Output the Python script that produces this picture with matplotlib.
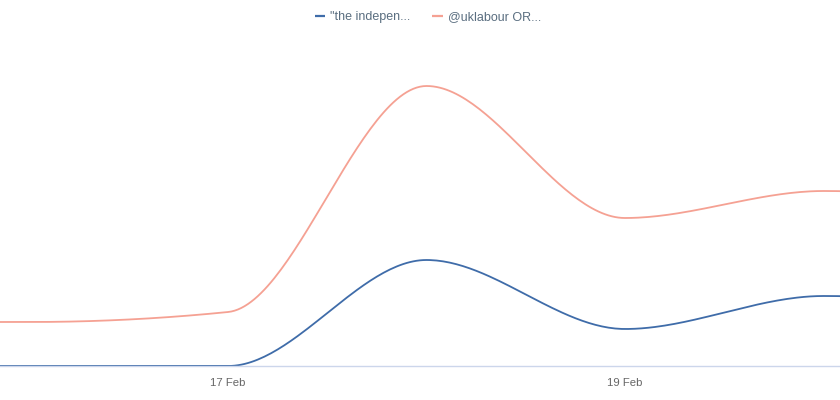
"""Two-series mention trend, smoothed lines, Feb dates."""

import matplotlib

matplotlib.use("Agg")
import matplotlib.dates as mdates
import matplotlib.pyplot as plt
import numpy as np
import pandas as pd

DATES = ["2024-02-15", "2024-02-16", "2024-02-17", "2024-02-18",
         "2024-02-19", "2024-02-20", "2024-02-21"]
INDEPENDENT = [0, 0, 0, 53, 18.5, 35, 28]
UKLABOUR = [22, 22, 27, 140, 74, 87.5, 80]
SERIES_NAMES = ['"the indepen...', "@uklabour OR..."]
SERIES_COLORS = ["#3f6ca9", "#f5a193"]


def monotone_curve(x, y, n=60):
    """Monotone cubic (d3 curveMonotoneX style) sampled between points."""
    x = np.asarray(x, dtype=float)
    y = np.asarray(y, dtype=float)
    h = np.diff(x)
    s = np.diff(y) / h
    t = np.zeros_like(y)
    for i in range(1, len(y) - 1):
        p = (s[i - 1] * h[i] + s[i] * h[i - 1]) / (h[i - 1] + h[i])
        t[i] = (np.sign(s[i - 1]) + np.sign(s[i])) * min(
            abs(s[i - 1]), abs(s[i]), 0.5 * abs(p))
    t[0] = (3 * s[0] - t[1]) / 2 if len(y) > 2 else s[0]
    t[-1] = (3 * s[-1] - t[-2]) / 2 if len(y) > 2 else s[-1]
    xs, ys = [], []
    for i in range(len(h)):
        u = np.linspace(0, 1, n, endpoint=False)
        h00 = 2 * u**3 - 3 * u**2 + 1
        h10 = u**3 - 2 * u**2 + u
        h01 = -2 * u**3 + 3 * u**2
        h11 = u**3 - u**2
        xs.append(x[i] + u * h[i])
        ys.append(h00 * y[i] + h10 * h[i] * t[i] + h01 * y[i + 1] + h11 * h[i] * t[i + 1])
    xs.append([x[-1]])
    ys.append([y[-1]])
    return np.concatenate(xs), np.concatenate(ys)


dates = mdates.date2num(pd.to_datetime(DATES))

fig = plt.figure(figsize=(8.4, 4.0), dpi=100)
ax = fig.add_axes([0, 0.085, 1, 0.815])

for vals, name, color in zip((INDEPENDENT, UKLABOUR), SERIES_NAMES, SERIES_COLORS):
    cx, cy = monotone_curve(dates, vals)
    ax.plot(cx, cy, color=color, lw=1.3, label=name, solid_capstyle="butt")

day0 = mdates.date2num(pd.Timestamp("2024-02-16"))
ax.set_xlim(day0 - 0.149, day0 + 4.083)
ax.set_ylim(0, 163)

for side in ("top", "right", "left"):
    ax.spines[side].set_visible(False)
ax.spines["bottom"].set_color("#ccd6eb")
ax.spines["bottom"].set_linewidth(1.0)
ax.set_yticks([])
ax.xaxis.set_major_locator(mdates.DayLocator(bymonthday=[17, 19]))
ax.xaxis.set_major_formatter(mdates.DateFormatter("%d %b"))
ax.tick_params(axis="x", length=0, pad=9, labelsize=8.2, labelcolor="#666666")
for lab in ax.get_xticklabels():
    lab.set_fontfamily("Liberation Sans")

leg = fig.legend(loc="upper center", bbox_to_anchor=(0.5095, 1.0), ncol=2,
                 frameon=False, handlelength=0.85, handletextpad=0.4,
                 columnspacing=1.75, prop={"family": "Liberation Sans", "size": 9.0})
for line in leg.get_lines():
    line.set_linewidth(1.6)
for txt in leg.get_texts():
    txt.set_color("#5a6e80")

fig.savefig("out.png", dpi=100)
plt.close(fig)
